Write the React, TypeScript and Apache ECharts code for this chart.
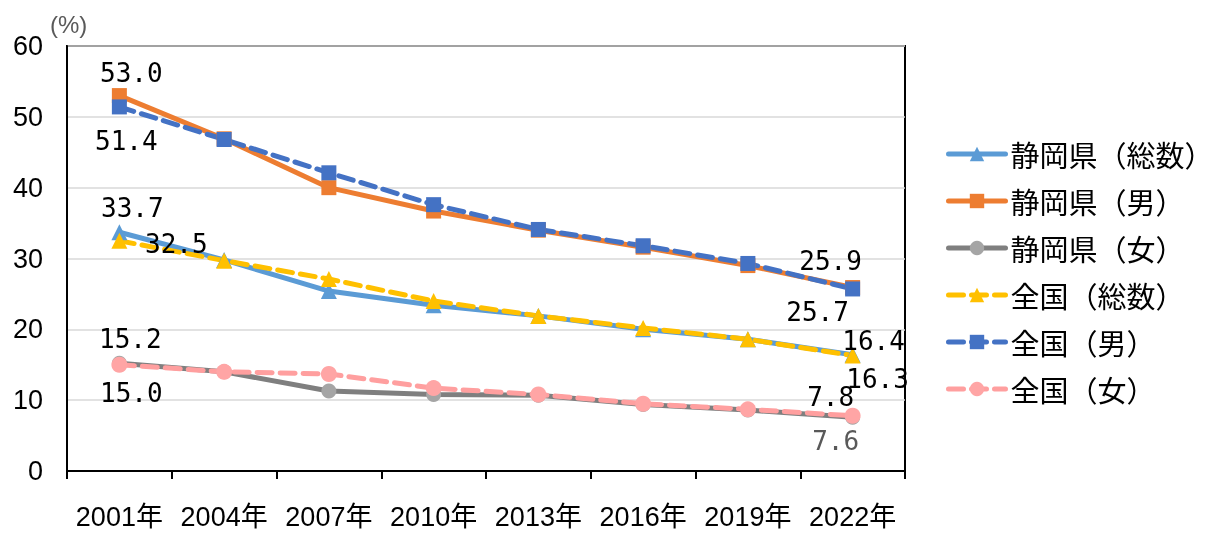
import React, { useEffect, useRef } from "react";
import * as echarts from "echarts";

const years = ["2001年", "2004年", "2007年", "2010年", "2013年", "2016年", "2019年", "2022年"];
const yTicks = [0, 10, 20, 30, 40, 50, 60];
const shizuokaTotal = [33.7, 29.8, 25.4, 23.4, 21.9, 20.0, 18.6, 16.4];
const shizuokaMale = [53.0, 46.9, 40.0, 36.7, 34.0, 31.6, 29.0, 25.9];
const shizuokaFemale = [15.2, 14.0, 11.3, 10.8, 10.7, 9.4, 8.6, 7.6];
const nationalTotal = [32.5, 29.7, 27.1, 24.0, 21.9, 20.2, 18.6, 16.3];
const nationalMale = [51.4, 46.8, 42.1, 37.6, 34.1, 31.8, 29.3, 25.7];
const nationalFemale = [15.0, 14.0, 13.7, 11.7, 10.8, 9.5, 8.7, 7.8];
const seriesNames = ["静岡県（総数）", "静岡県（男）", "静岡県（女）", "全国（総数）", "全国（男）", "全国（女）"];

const labelFont = "'DejaVu Sans Mono', 'Liberation Mono', monospace";

// label offsets for first / last points (pixel offsets from the marker)
const labelOffsets: Record<string, { first: number[]; last: number[]; color?: string }> = {
  "静岡県（総数）": { first: [13, -24], last: [21, -14] },
  "静岡県（男）": { first: [12, -23], last: [-22, -27] },
  "静岡県（女）": { first: [11, -24], last: [-17, 24], color: "#595959" },
  "全国（総数）": { first: [57, 3], last: [25, 23] },
  "全国（男）": { first: [7, 34], last: [-35, 23] },
  "全国（女）": { first: [12, 28], last: [-22, -19] },
};

function buildData(name: string, values: number[]) {
  const cfg = labelOffsets[name];
  return values.map((v, i) => {
    const isFirst = i === 0;
    const isLast = i === values.length - 1;
    if (!isFirst && !isLast) return v;
    return {
      value: v,
      label: {
        show: true,
        position: "inside",
        offset: isFirst ? cfg.first : cfg.last,
        formatter: (p: any) => Number(p.value).toFixed(1),
        fontFamily: labelFont,
        fontSize: 26,
        color: isLast && cfg.color ? cfg.color : "#000",
      },
    };
  });
}

export default function App() {
  const ref = useRef<HTMLDivElement>(null);
  useEffect(() => {
    if (!ref.current) return;
    const chart = echarts.init(ref.current, null, { renderer: "svg" });
    const mk = (
      name: string,
      values: number[],
      lineColor: string,
      markerColor: string,
      symbol: string,
      dashed: boolean,
      size: number
    ) => ({
      name,
      type: "line",
      data: buildData(name, values),
      symbol,
      symbolSize: size,
      showAllSymbol: true,
      lineStyle: { color: lineColor, width: 5, type: dashed ? [15, 8] : "solid", cap: "round" },
      itemStyle: { color: markerColor },
      emphasis: { disabled: true },
      z: 2,
    });
    chart.setOption({
      animation: false,
      grid: { left: 67, right: 316, top: 46, bottom: 65, show: true, borderColor: "#000", borderWidth: 2, backgroundColor: "transparent" },
      graphic: [
        {
          type: "text",
          left: 50,
          top: 12,
          style: { text: "(%)", fontSize: 24, fontFamily: "'Liberation Sans', Arial", fill: "#595959" },
        },
      ],
      legend: {
        orient: "vertical",
        left: 941,
        top: 134,
        itemWidth: 57,
        itemHeight: 18,
        itemGap: 17,
        data: seriesNames,
        lineStyle: { width: 5 },
        textStyle: { fontSize: 29, fontFamily: "'Noto Sans CJK JP'", color: "#000", lineHeight: 30 },
      },
      xAxis: {
        type: "category",
        data: years,
        boundaryGap: true,
        axisLine: { lineStyle: { color: "#000", width: 2 } },
        axisTick: { show: true, length: 8, lineStyle: { color: "#000", width: 2 } },
        axisLabel: {
          interval: 0,
          margin: 32,
          fontSize: 27,
          fontFamily: "'Liberation Sans', 'Noto Sans CJK JP'",
          color: "#000",
        },
      },
      yAxis: {
        type: "value",
        min: yTicks[0],
        max: yTicks[yTicks.length - 1],
        interval: 10,
        axisLine: { show: true, lineStyle: { color: "#000", width: 2 } },
        axisTick: { show: false },
        splitLine: { lineStyle: { color: "#d9d9d9", width: 1.5 } },
        axisLabel: { margin: 24, fontSize: 27, fontFamily: "'Liberation Sans', Arial", color: "#000" },
      },
      series: [
        mk(seriesNames[0], shizuokaTotal, "#5B9BD5", "#5B9BD5", "triangle", false, 16),
        mk(seriesNames[1], shizuokaMale, "#ED7D31", "#ED7D31", "rect", false, 15),
        mk(seriesNames[2], shizuokaFemale, "#7F7F7F", "#A5A5A5", "circle", false, 15),
        mk(seriesNames[3], nationalTotal, "#FFC000", "#FFC000", "triangle", true, 16),
        mk(seriesNames[4], nationalMale, "#4472C4", "#4472C4", "rect", true, 15),
        mk(seriesNames[5], nationalFemale, "#FF9F9F", "#FFA5A5", "circle", true, 16),
      ],
    });
    return () => chart.dispose();
  }, []);
  return <div ref={ref} style={{ position: "fixed", left: 0, top: 0, width: 1221, height: 536 }} />;
}
